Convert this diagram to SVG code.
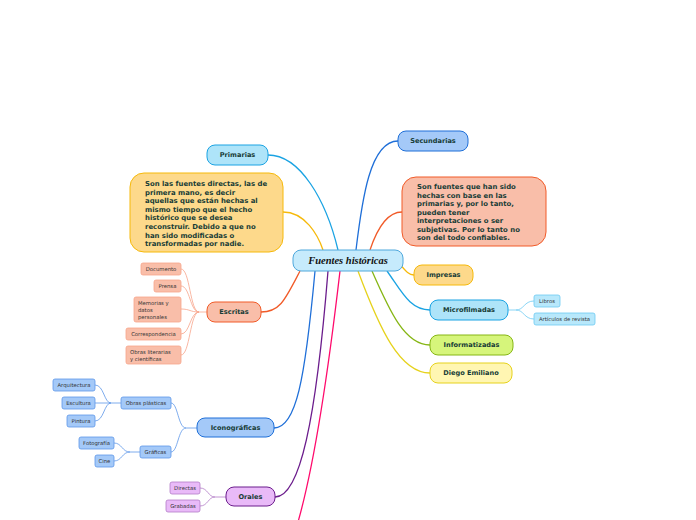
<svg xmlns="http://www.w3.org/2000/svg" width="696" height="520" viewBox="0 0 696 520">
<style>
.lbl{font-family:"DejaVu Sans",Verdana,sans-serif;font-weight:bold;font-size:6.6px;fill:#173c36;text-anchor:middle;dominant-baseline:central}
.par{font-family:"DejaVu Sans",Verdana,sans-serif;font-weight:bold;font-size:6.9px;fill:#173c36}
.sub{font-family:"DejaVu Sans",Verdana,sans-serif;font-size:5.3px;fill:#333;text-anchor:middle;dominant-baseline:central}
.subl{font-family:"DejaVu Sans",Verdana,sans-serif;font-size:5.3px;fill:#333}
.c{fill:none;stroke-width:1.3}
.t{fill:none;stroke-width:0.8}
.blue1{fill:#aee4f9;stroke:#1aa3e3}
.blue2{fill:#a4c9f8;stroke:#1f6fd8}
.yel{fill:#fdd98b;stroke:#f6b90a}
.ora{fill:#f9bea9;stroke:#f15b29}
.grn{fill:#d6f57b;stroke:#86b614}
.lyel{fill:#fff6b2;stroke:#e6d21c}
.pur{fill:#e9baf8;stroke:#6b1c8c}
.sora{fill:#f9bea9;stroke:#f8a58c;stroke-width:0.8}
.sblu1{fill:#b8e8fb;stroke:#6ccaf3;stroke-width:0.8}
.sblu2{fill:#a4c9f8;stroke:#5d97e8;stroke-width:0.8}
.spur{fill:#e9baf8;stroke:#b27cc6;stroke-width:0.8}
</style>
<rect width="696" height="520" fill="#ffffff"/>
<g id="connectors">
<path class="c" stroke="#1aa3e3" d="M268,155 C300,155 326,200 338,250"/>
<path class="c" stroke="#f6b90a" d="M283,212 C305,212 318,235 323,250"/>
<path class="c" stroke="#1f6fd8" d="M398,141 C370,141 362,200 356,250"/>
<path class="c" stroke="#f15b29" d="M402,212 C386,212 376,232 370,250"/>
<path class="c" stroke="#f6b90a" d="M398,262 C405,270 408,275 414,275"/>
<path class="c" stroke="#1aa3e3" d="M387,271 C402,292 410,310 430,310"/>
<path class="c" stroke="#86b614" d="M372,271 C390,312 405,345 430,345"/>
<path class="c" stroke="#e6d21c" d="M358,271 C380,330 400,373 430,373"/>
<path class="c" stroke="#f15b29" d="M300,271 C285,300 280,312 261,312"/>
<path class="c" stroke="#1f6fd8" d="M315,271 C305,380 296,428 274,428"/>
<path class="c" stroke="#6b1c8c" d="M328,271 C316,420 300,497 275,497"/>
<path class="c" stroke="#ff0a6c" d="M340,271 C325,400 310,480 298,522"/>
<path class="t" stroke="#6ccaf3" d="M508,310 L516,310 C524,310 524,301 534,301 M516,310 C524,310 524,319 534,319"/>
<path class="t" stroke="#f8a58c" d="M207,312 L199,312 C190,312 190,269 181,269 M199,312 C190,312 190,286 181,286 M199,312 C190,312 190,309 181,309 M199,312 C190,312 190,334 181,334 M199,312 C190,312 190,355 181,355"/>
<path class="t" stroke="#5d97e8" d="M197,428 L186,428 C178,428 178,403 171,403 M186,428 C178,428 178,452 171,452"/>
<path class="t" stroke="#5d97e8" d="M121,403 L111,403 C104,403 104,385 95,385 M111,403 L95,403 M111,403 C104,403 104,421 95,421"/>
<path class="t" stroke="#5d97e8" d="M140,452 L130,452 C122,452 122,443 114,443 M130,452 C122,452 122,461 114,461"/>
<path class="t" stroke="#b27cc6" d="M226,497 L215,497 C208,497 208,488 200,488 M215,497 C208,497 208,506 200,506"/>
</g>
<g id="central">
<rect x="293" y="250" width="110" height="21" rx="8" fill="#c6ebfc" stroke="#4fa8dc" stroke-width="1"/>
<text x="348" y="260.5" style="font-family:'Liberation Serif','DejaVu Serif',serif;font-style:italic;font-weight:bold;font-size:10.5px;fill:#111;text-anchor:middle;dominant-baseline:central">Fuentes históricas</text>
</g>
<g id="primarias">
<rect class="blue1" x="207" y="145" width="61" height="20" rx="8"/>
<text class="lbl" x="237.5" y="155">Primarias</text>
</g>
<g id="primarias-desc">
<rect class="yel" x="130" y="173" width="153" height="79" rx="14"/>
<text class="par"><tspan x="145" y="186">Son las fuentes directas, las de</tspan><tspan x="145" y="194.6">primera mano, es decir</tspan><tspan x="145" y="203.2">aquellas que están hechas al</tspan><tspan x="145" y="211.8">mismo tiempo que el hecho</tspan><tspan x="145" y="220.4">histórico que se desea</tspan><tspan x="145" y="229">reconstruir. Debido a que no</tspan><tspan x="145" y="237.6">han sido modificadas o</tspan><tspan x="145" y="246.2">transformadas por nadie.</tspan></text>
</g>
<g id="secundarias">
<rect class="blue2" x="398" y="131" width="70" height="20" rx="8"/>
<text class="lbl" x="433" y="141">Secundarias</text>
</g>
<g id="secundarias-desc">
<rect class="ora" x="402" y="177" width="144" height="69" rx="14"/>
<text class="par"><tspan x="417" y="189">Son fuentes que han sido</tspan><tspan x="417" y="197.5">hechas con base en las</tspan><tspan x="417" y="206">primarias y, por lo tanto,</tspan><tspan x="417" y="214.5">pueden tener</tspan><tspan x="417" y="223">interpretaciones o ser</tspan><tspan x="417" y="231.5">subjetivas. Por lo tanto no</tspan><tspan x="417" y="240">son del todo confiables.</tspan></text>
</g>
<g id="impresas">
<rect class="yel" x="414" y="265" width="59" height="20" rx="8"/>
<text class="lbl" x="443.5" y="275">Impresas</text>
</g>
<g id="microfilmadas">
<rect class="blue1" x="430" y="300" width="78" height="20" rx="8"/>
<text class="lbl" x="469" y="310">Microfilmadas</text>
</g>
<g id="libros">
<rect class="sblu1" x="534" y="295" width="26" height="12" rx="2"/>
<text class="sub" x="547" y="301">Libros</text>
</g>
<g id="articulos">
<rect class="sblu1" x="534" y="313" width="61" height="12" rx="2"/>
<text class="sub" x="564.5" y="319">Artículos de revista</text>
</g>
<g id="informatizadas">
<rect class="grn" x="430" y="335" width="83" height="20" rx="8"/>
<text class="lbl" x="471.5" y="345">Informatizadas</text>
</g>
<g id="diego">
<rect class="lyel" x="430" y="363" width="82" height="20" rx="8"/>
<text class="lbl" x="471" y="373">Diego Emiliano</text>
</g>
<g id="escritas">
<rect class="ora" x="207" y="302" width="54" height="20" rx="8"/>
<text class="lbl" x="234" y="312">Escritas</text>
</g>
<g id="documento">
<rect class="sora" x="141" y="263" width="40" height="12" rx="2"/>
<text class="sub" x="161" y="269">Documento</text>
</g>
<g id="prensa">
<rect class="sora" x="154" y="280" width="27" height="12" rx="2"/>
<text class="sub" x="167.5" y="286">Prensa</text>
</g>
<g id="memorias">
<rect class="sora" x="134" y="297" width="47" height="25" rx="2"/>
<text class="subl"><tspan x="138" y="305">Memorias y</tspan><tspan x="138" y="312">datos</tspan><tspan x="138" y="319">personales</tspan></text>
</g>
<g id="correspondencia">
<rect class="sora" x="126" y="328" width="55" height="12" rx="2"/>
<text class="sub" x="153.5" y="334">Correspondencia</text>
</g>
<g id="obras-literarias">
<rect class="sora" x="126" y="346" width="55" height="18" rx="2"/>
<text class="subl"><tspan x="130" y="353.5">Obras literarias</tspan><tspan x="130" y="360.5">y científicas</tspan></text>
</g>
<g id="iconograficas">
<rect class="blue2" x="197" y="418" width="77" height="19" rx="8"/>
<text class="lbl" x="235.5" y="427.5">Iconográficas</text>
</g>
<g id="obras-plasticas">
<rect class="sblu2" x="121" y="397" width="50" height="12" rx="2"/>
<text class="sub" x="146" y="403">Obras plásticas</text>
</g>
<g id="graficas">
<rect class="sblu2" x="140" y="446" width="31" height="12" rx="2"/>
<text class="sub" x="155.5" y="452">Gráficas</text>
</g>
<g id="arquitectura">
<rect class="sblu2" x="53" y="379" width="42" height="12" rx="2"/>
<text class="sub" x="74" y="385">Arquitectura</text>
</g>
<g id="escultura">
<rect class="sblu2" x="62" y="397" width="33" height="12" rx="2"/>
<text class="sub" x="78.5" y="403">Escultura</text>
</g>
<g id="pintura">
<rect class="sblu2" x="67" y="415" width="28" height="12" rx="2"/>
<text class="sub" x="81" y="421">Pintura</text>
</g>
<g id="fotografia">
<rect class="sblu2" x="79" y="437" width="35" height="12" rx="2"/>
<text class="sub" x="96.5" y="443">Fotografía</text>
</g>
<g id="cine">
<rect class="sblu2" x="95" y="455" width="19" height="12" rx="2"/>
<text class="sub" x="104.5" y="461">Cine</text>
</g>
<g id="orales">
<rect class="pur" x="226" y="487" width="49" height="19" rx="8"/>
<text class="lbl" x="250.5" y="496.5">Orales</text>
</g>
<g id="directas">
<rect class="spur" x="170" y="482" width="30" height="12" rx="2"/>
<text class="sub" x="185" y="488">Directas</text>
</g>
<g id="grabadas">
<rect class="spur" x="166" y="500" width="34" height="12" rx="2"/>
<text class="sub" x="183" y="506">Grabadas</text>
</g>
</svg>
